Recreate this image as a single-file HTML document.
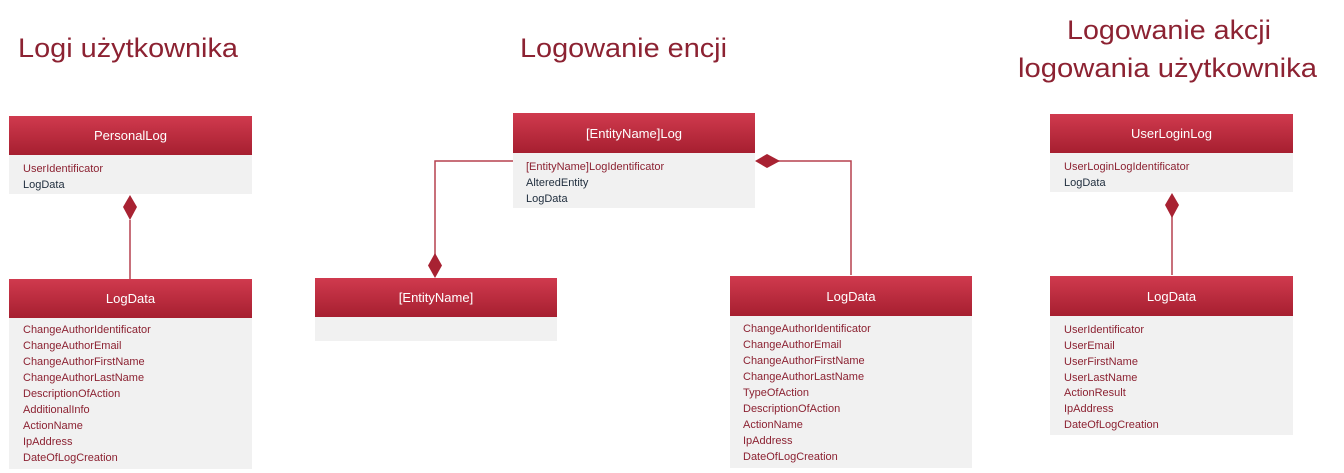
<!DOCTYPE html>
<html><head><meta charset="utf-8"><style>
html,body{margin:0;padding:0;background:#fff;width:1344px;height:473px;overflow:hidden}
svg text{font-family:"Liberation Sans",sans-serif}
</style></head><body>
<svg width="1344" height="473" viewBox="0 0 1344 473" xmlns="http://www.w3.org/2000/svg">
<defs>
<linearGradient id="g" x1="0" y1="0" x2="0" y2="1">
<stop offset="0" stop-color="#d03a4e"/><stop offset="1" stop-color="#a61f30"/>
</linearGradient>
</defs>
<g fill="#8c2232" font-size="27">
<text x="18" y="57" textLength="220" lengthAdjust="spacingAndGlyphs">Logi użytkownika</text>
<text x="520" y="57" textLength="207" lengthAdjust="spacingAndGlyphs">Logowanie encji</text>
<text x="1067" y="39" textLength="204" lengthAdjust="spacingAndGlyphs">Logowanie akcji</text>
<text x="1018" y="77" textLength="299" lengthAdjust="spacingAndGlyphs">logowania użytkownika</text>
</g>
<g stroke="#b5414f" stroke-width="1.5" fill="none">
<line x1="130" y1="220" x2="130" y2="279"/>
<polyline points="513,161 435,161 435,256"/>
<polyline points="778,161 851,161 851,275"/>
<line x1="1172" y1="216" x2="1172" y2="275"/>
</g>
<g fill="#a82232">
<polygon points="130,195 137,207 130,220 123,207"/>
<polygon points="435,253 442,265.5 435,278 428,265.5"/>
<polygon points="755,161 767,154 780,161 767,168"/>
<polygon points="1172,193 1179,205 1172,218 1165,205"/>
</g>
<g font-size="11">
<rect x="9" y="155" width="243" height="39" fill="#f1f1f1"/>
<rect x="9" y="116" width="243" height="39" fill="url(#g)"/>
<text x="130.5" y="140" fill="#fff" font-size="13" text-anchor="middle">PersonalLog</text>
<text x="23" y="172" fill="#8c2232">UserIdentificator</text>
<text x="23" y="188" fill="#1f2d3d">LogData</text>
<rect x="9" y="318" width="243" height="151" fill="#f1f1f1"/>
<rect x="9" y="279" width="243" height="39" fill="url(#g)"/>
<text x="130.5" y="303" fill="#fff" font-size="13" text-anchor="middle">LogData</text>
<g fill="#8c2232">
<text x="23" y="333">ChangeAuthorIdentificator</text>
<text x="23" y="349">ChangeAuthorEmail</text>
<text x="23" y="365">ChangeAuthorFirstName</text>
<text x="23" y="381">ChangeAuthorLastName</text>
<text x="23" y="397">DescriptionOfAction</text>
<text x="23" y="413">AdditionalInfo</text>
<text x="23" y="429">ActionName</text>
<text x="23" y="445">IpAddress</text>
<text x="23" y="461">DateOfLogCreation</text>
</g>
<rect x="513" y="153" width="242" height="55" fill="#f1f1f1"/>
<rect x="513" y="113" width="242" height="40" fill="url(#g)"/>
<text x="634" y="138" fill="#fff" font-size="13" text-anchor="middle">[EntityName]Log</text>
<text x="526" y="170" fill="#8c2232">[EntityName]LogIdentificator</text>
<text x="526" y="186" fill="#1f2d3d">AlteredEntity</text>
<text x="526" y="202" fill="#1f2d3d">LogData</text>
<rect x="315" y="317" width="242" height="24" fill="#f1f1f1"/>
<rect x="315" y="278" width="242" height="39" fill="url(#g)"/>
<text x="436" y="302" fill="#fff" font-size="13" text-anchor="middle">[EntityName]</text>
<rect x="730" y="316" width="242" height="152" fill="#f1f1f1"/>
<rect x="730" y="276" width="242" height="40" fill="url(#g)"/>
<text x="851" y="301" fill="#fff" font-size="13" text-anchor="middle">LogData</text>
<g fill="#8c2232">
<text x="743" y="332">ChangeAuthorIdentificator</text>
<text x="743" y="348">ChangeAuthorEmail</text>
<text x="743" y="364">ChangeAuthorFirstName</text>
<text x="743" y="380">ChangeAuthorLastName</text>
<text x="743" y="396">TypeOfAction</text>
<text x="743" y="412">DescriptionOfAction</text>
<text x="743" y="428">ActionName</text>
<text x="743" y="444">IpAddress</text>
<text x="743" y="460">DateOfLogCreation</text>
</g>
<rect x="1050" y="153" width="243" height="39" fill="#f1f1f1"/>
<rect x="1050" y="114" width="243" height="39" fill="url(#g)"/>
<text x="1171.5" y="138" fill="#fff" font-size="13" text-anchor="middle">UserLoginLog</text>
<text x="1064" y="170" fill="#8c2232">UserLoginLogIdentificator</text>
<text x="1064" y="186" fill="#1f2d3d">LogData</text>
<rect x="1050" y="316" width="243" height="119" fill="#f1f1f1"/>
<rect x="1050" y="276" width="243" height="40" fill="url(#g)"/>
<text x="1171.5" y="301" fill="#fff" font-size="13" text-anchor="middle">LogData</text>
<g fill="#8c2232">
<text x="1064" y="333">UserIdentificator</text>
<text x="1064" y="349">UserEmail</text>
<text x="1064" y="365">UserFirstName</text>
<text x="1064" y="381">UserLastName</text>
<text x="1064" y="396">ActionResult</text>
<text x="1064" y="412">IpAddress</text>
<text x="1064" y="428">DateOfLogCreation</text>
</g>
</g>
</svg>
</body></html>
